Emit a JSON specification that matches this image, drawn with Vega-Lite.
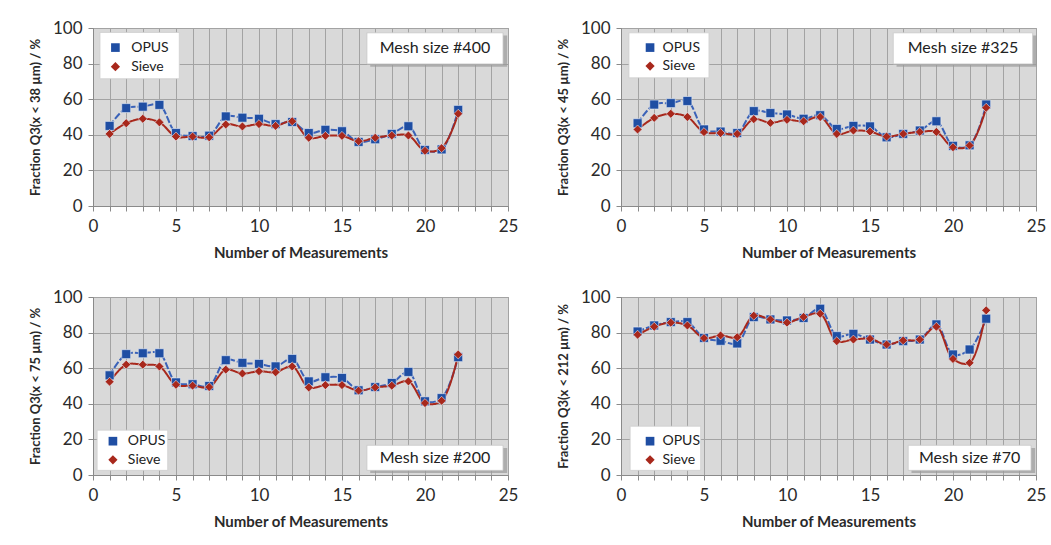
{
  "$schema": "https://vega.github.io/schema/vega-lite/v6.json",
  "background": "white",
  "padding": {"left": 28, "top": 18, "right": 0, "bottom": 0},
  "autosize": {"type": "pad"},
  "datasets": {
    "pts": [
      {"p":"400","n":1,"s":"OPUS","v":45},{"p":"400","n":2,"s":"OPUS","v":55},{"p":"400","n":3,"s":"OPUS","v":55.8},{"p":"400","n":4,"s":"OPUS","v":56.8},{"p":"400","n":5,"s":"OPUS","v":41},{"p":"400","n":6,"s":"OPUS","v":39.3},{"p":"400","n":7,"s":"OPUS","v":39.5},{"p":"400","n":8,"s":"OPUS","v":50.3},{"p":"400","n":9,"s":"OPUS","v":49.6},{"p":"400","n":10,"s":"OPUS","v":49},{"p":"400","n":11,"s":"OPUS","v":46},{"p":"400","n":12,"s":"OPUS","v":47.2},{"p":"400","n":13,"s":"OPUS","v":41},{"p":"400","n":14,"s":"OPUS","v":42.8},{"p":"400","n":15,"s":"OPUS","v":42},{"p":"400","n":16,"s":"OPUS","v":36},{"p":"400","n":17,"s":"OPUS","v":37.5},{"p":"400","n":18,"s":"OPUS","v":40.5},{"p":"400","n":19,"s":"OPUS","v":44.8},{"p":"400","n":20,"s":"OPUS","v":31.5},{"p":"400","n":21,"s":"OPUS","v":31.8},{"p":"400","n":22,"s":"OPUS","v":54},
      {"p":"400","n":1,"s":"Sieve","v":40.5},{"p":"400","n":2,"s":"Sieve","v":46.5},{"p":"400","n":3,"s":"Sieve","v":49},{"p":"400","n":4,"s":"Sieve","v":47},{"p":"400","n":5,"s":"Sieve","v":39},{"p":"400","n":6,"s":"Sieve","v":39},{"p":"400","n":7,"s":"Sieve","v":38.6},{"p":"400","n":8,"s":"Sieve","v":45.8},{"p":"400","n":9,"s":"Sieve","v":44.7},{"p":"400","n":10,"s":"Sieve","v":46},{"p":"400","n":11,"s":"Sieve","v":45},{"p":"400","n":12,"s":"Sieve","v":47.6},{"p":"400","n":13,"s":"Sieve","v":38.3},{"p":"400","n":14,"s":"Sieve","v":39.4},{"p":"400","n":15,"s":"Sieve","v":39.4},{"p":"400","n":16,"s":"Sieve","v":36.4},{"p":"400","n":17,"s":"Sieve","v":38.3},{"p":"400","n":18,"s":"Sieve","v":39.6},{"p":"400","n":19,"s":"Sieve","v":39.6},{"p":"400","n":20,"s":"Sieve","v":31},{"p":"400","n":21,"s":"Sieve","v":32.5},{"p":"400","n":22,"s":"Sieve","v":51.8},
      {"p":"325","n":1,"s":"OPUS","v":46.5},{"p":"325","n":2,"s":"OPUS","v":57},{"p":"325","n":3,"s":"OPUS","v":57.8},{"p":"325","n":4,"s":"OPUS","v":59},{"p":"325","n":5,"s":"OPUS","v":43},{"p":"325","n":6,"s":"OPUS","v":41.8},{"p":"325","n":7,"s":"OPUS","v":41},{"p":"325","n":8,"s":"OPUS","v":53.3},{"p":"325","n":9,"s":"OPUS","v":52.2},{"p":"325","n":10,"s":"OPUS","v":51.4},{"p":"325","n":11,"s":"OPUS","v":49},{"p":"325","n":12,"s":"OPUS","v":51},{"p":"325","n":13,"s":"OPUS","v":43.3},{"p":"325","n":14,"s":"OPUS","v":45},{"p":"325","n":15,"s":"OPUS","v":44.7},{"p":"325","n":16,"s":"OPUS","v":38.6},{"p":"325","n":17,"s":"OPUS","v":40.5},{"p":"325","n":18,"s":"OPUS","v":42.4},{"p":"325","n":19,"s":"OPUS","v":47.6},{"p":"325","n":20,"s":"OPUS","v":33.8},{"p":"325","n":21,"s":"OPUS","v":34.1},{"p":"325","n":22,"s":"OPUS","v":57},
      {"p":"325","n":1,"s":"Sieve","v":43},{"p":"325","n":2,"s":"Sieve","v":49.5},{"p":"325","n":3,"s":"Sieve","v":51.8},{"p":"325","n":4,"s":"Sieve","v":50},{"p":"325","n":5,"s":"Sieve","v":41.5},{"p":"325","n":6,"s":"Sieve","v":41},{"p":"325","n":7,"s":"Sieve","v":40.5},{"p":"325","n":8,"s":"Sieve","v":48.8},{"p":"325","n":9,"s":"Sieve","v":46.7},{"p":"325","n":10,"s":"Sieve","v":48.4},{"p":"325","n":11,"s":"Sieve","v":47.6},{"p":"325","n":12,"s":"Sieve","v":50},{"p":"325","n":13,"s":"Sieve","v":40.5},{"p":"325","n":14,"s":"Sieve","v":42.4},{"p":"325","n":15,"s":"Sieve","v":41.8},{"p":"325","n":16,"s":"Sieve","v":39},{"p":"325","n":17,"s":"Sieve","v":40.5},{"p":"325","n":18,"s":"Sieve","v":41.6},{"p":"325","n":19,"s":"Sieve","v":41.6},{"p":"325","n":20,"s":"Sieve","v":33},{"p":"325","n":21,"s":"Sieve","v":34},{"p":"325","n":22,"s":"Sieve","v":55.2},
      {"p":"200","n":1,"s":"OPUS","v":56},{"p":"200","n":2,"s":"OPUS","v":67.9},{"p":"200","n":3,"s":"OPUS","v":68.4},{"p":"200","n":4,"s":"OPUS","v":68.4},{"p":"200","n":5,"s":"OPUS","v":52},{"p":"200","n":6,"s":"OPUS","v":51},{"p":"200","n":7,"s":"OPUS","v":50},{"p":"200","n":8,"s":"OPUS","v":64.5},{"p":"200","n":9,"s":"OPUS","v":63},{"p":"200","n":10,"s":"OPUS","v":62.4},{"p":"200","n":11,"s":"OPUS","v":61},{"p":"200","n":12,"s":"OPUS","v":65.2},{"p":"200","n":13,"s":"OPUS","v":52.6},{"p":"200","n":14,"s":"OPUS","v":54.9},{"p":"200","n":15,"s":"OPUS","v":54.5},{"p":"200","n":16,"s":"OPUS","v":47.6},{"p":"200","n":17,"s":"OPUS","v":49.4},{"p":"200","n":18,"s":"OPUS","v":51.7},{"p":"200","n":19,"s":"OPUS","v":57.9},{"p":"200","n":20,"s":"OPUS","v":41.4},{"p":"200","n":21,"s":"OPUS","v":43.2},{"p":"200","n":22,"s":"OPUS","v":66.2},
      {"p":"200","n":1,"s":"Sieve","v":52.4},{"p":"200","n":2,"s":"Sieve","v":62},{"p":"200","n":3,"s":"Sieve","v":62},{"p":"200","n":4,"s":"Sieve","v":61},{"p":"200","n":5,"s":"Sieve","v":50.7},{"p":"200","n":6,"s":"Sieve","v":50.2},{"p":"200","n":7,"s":"Sieve","v":49.4},{"p":"200","n":8,"s":"Sieve","v":59.2},{"p":"200","n":9,"s":"Sieve","v":57},{"p":"200","n":10,"s":"Sieve","v":58.3},{"p":"200","n":11,"s":"Sieve","v":57.7},{"p":"200","n":12,"s":"Sieve","v":61},{"p":"200","n":13,"s":"Sieve","v":49.2},{"p":"200","n":14,"s":"Sieve","v":50.5},{"p":"200","n":15,"s":"Sieve","v":50.5},{"p":"200","n":16,"s":"Sieve","v":47.4},{"p":"200","n":17,"s":"Sieve","v":49.2},{"p":"200","n":18,"s":"Sieve","v":50.2},{"p":"200","n":19,"s":"Sieve","v":52.6},{"p":"200","n":20,"s":"Sieve","v":40.4},{"p":"200","n":21,"s":"Sieve","v":41.7},{"p":"200","n":22,"s":"Sieve","v":67.7},
      {"p":"70","n":1,"s":"OPUS","v":80.6},{"p":"70","n":2,"s":"OPUS","v":84},{"p":"70","n":3,"s":"OPUS","v":85.9},{"p":"70","n":4,"s":"OPUS","v":85.9},{"p":"70","n":5,"s":"OPUS","v":77},{"p":"70","n":6,"s":"OPUS","v":75.4},{"p":"70","n":7,"s":"OPUS","v":73.9},{"p":"70","n":8,"s":"OPUS","v":88.7},{"p":"70","n":9,"s":"OPUS","v":87.4},{"p":"70","n":10,"s":"OPUS","v":86.8},{"p":"70","n":11,"s":"OPUS","v":88.2},{"p":"70","n":12,"s":"OPUS","v":93.4},{"p":"70","n":13,"s":"OPUS","v":78},{"p":"70","n":14,"s":"OPUS","v":79.3},{"p":"70","n":15,"s":"OPUS","v":76.1},{"p":"70","n":16,"s":"OPUS","v":73.3},{"p":"70","n":17,"s":"OPUS","v":75.2},{"p":"70","n":18,"s":"OPUS","v":76.1},{"p":"70","n":19,"s":"OPUS","v":84.6},{"p":"70","n":20,"s":"OPUS","v":67.7},{"p":"70","n":21,"s":"OPUS","v":70.5},{"p":"70","n":22,"s":"OPUS","v":87.8},
      {"p":"70","n":1,"s":"Sieve","v":78.8},{"p":"70","n":2,"s":"Sieve","v":83.3},{"p":"70","n":3,"s":"Sieve","v":85.6},{"p":"70","n":4,"s":"Sieve","v":84},{"p":"70","n":5,"s":"Sieve","v":76.9},{"p":"70","n":6,"s":"Sieve","v":78.4},{"p":"70","n":7,"s":"Sieve","v":77.4},{"p":"70","n":8,"s":"Sieve","v":89.5},{"p":"70","n":9,"s":"Sieve","v":87.4},{"p":"70","n":10,"s":"Sieve","v":85.6},{"p":"70","n":11,"s":"Sieve","v":88.8},{"p":"70","n":12,"s":"Sieve","v":90.6},{"p":"70","n":13,"s":"Sieve","v":75.2},{"p":"70","n":14,"s":"Sieve","v":76.1},{"p":"70","n":15,"s":"Sieve","v":76.5},{"p":"70","n":16,"s":"Sieve","v":73.3},{"p":"70","n":17,"s":"Sieve","v":75.6},{"p":"70","n":18,"s":"Sieve","v":76.1},{"p":"70","n":19,"s":"Sieve","v":83.3},{"p":"70","n":20,"s":"Sieve","v":65.2},{"p":"70","n":21,"s":"Sieve","v":63},{"p":"70","n":22,"s":"Sieve","v":92.5}
    ],
    "labels": [
      {"p":"400","label":"Mesh size #400"},
      {"p":"325","label":"Mesh size #325"},
      {"p":"200","label":"Mesh size #200"},
      {"p":"70","label":"Mesh size #70"}
    ],
    "keys": [
      {"s":"OPUS"},
      {"s":"Sieve"}
    ]
  },
  "vconcat": [
    {
      "hconcat": [
        {
          "width": 415, "height": 178,
          "layer": [
            {"data": {"name": "pts"}, "transform": [{"filter": "datum.p === '400'"}], "mark": {"type": "line", "interpolate": "catmull-rom", "strokeWidth": 2},
             "encoding": {
               "x": {"field": "n", "type": "quantitative", "scale": {"domain": [0, 25], "nice": false, "zero": false}, "axis": {"tickCount": 25, "labelExpr": "datum.value % 5 === 0 ? datum.label : ''", "title": "Number of Measurements", "grid": true, "labelOverlap": false}},
               "y": {"field": "v", "type": "quantitative", "scale": {"domain": [0, 100], "nice": false}, "axis": {"tickCount": 5, "title": "Fraction Q3(x < 38 µm) / %", "grid": true, "labelOverlap": false}},
               "stroke": {"field": "s", "type": "nominal", "scale": {"domain": ["OPUS", "Sieve"], "range": ["#3a62b8", "#a8281c"]}, "legend": null},
               "strokeDash": {"field": "s", "type": "nominal", "scale": {"domain": ["OPUS", "Sieve"], "range": [[7, 2], [1, 0]]}, "legend": null}
             }},
            {"data": {"name": "pts"}, "transform": [{"filter": "datum.p === '400'"}], "mark": {"type": "point", "filled": true, "opacity": 1, "size": 80, "stroke": "#e8ecf5", "strokeWidth": 0.6},
             "encoding": {
               "x": {"field": "n", "type": "quantitative"},
               "y": {"field": "v", "type": "quantitative"},
               "color": {"field": "s", "type": "nominal", "scale": {"domain": ["OPUS", "Sieve"], "range": ["#1f4ea3", "#a8281c"]}, "legend": null},
               "shape": {"field": "s", "type": "nominal", "scale": {"domain": ["OPUS", "Sieve"], "range": ["square", "diamond"]}, "legend": null}
             }},
            {"data": {"name": "labels"}, "transform": [{"filter": "datum.p === '400'"}], "mark": {"type": "rect", "fill": "#9a9a9a", "opacity": 0.7}, "encoding": {"x": {"datum": 16.7}, "x2": {"datum": 24.95}, "y": {"datum": 95.8}, "y2": {"datum": 78.2}}},
            {"data": {"name": "labels"}, "transform": [{"filter": "datum.p === '400'"}], "mark": {"type": "rect", "fill": "white", "stroke": "#c8c8c8", "strokeWidth": 0.8}, "encoding": {"x": {"datum": 16.5}, "x2": {"datum": 24.7}, "y": {"datum": 97.3}, "y2": {"datum": 79.8}}},
            {"data": {"name": "labels"}, "transform": [{"filter": "datum.p === '400'"}], "mark": {"type": "text", "font": "Lato", "fontSize": 16, "color": "#222"}, "encoding": {"x": {"datum": 20.6}, "y": {"datum": 88.5}, "text": {"field": "label"}}},
            {"data": {"name": "labels"}, "transform": [{"filter": "datum.p === '400'"}], "mark": {"type": "rect", "fill": "white", "stroke": "#cfcfcf", "strokeWidth": 0.8}, "encoding": {"x": {"datum": 0.42}, "x2": {"datum": 5.2}, "y": {"datum": 97.5}, "y2": {"datum": 71.5}}},
            {"data": {"name": "keys"}, "transform": [{"filter": "datum.s === 'OPUS'"}], "mark": {"type": "point", "shape": "square", "filled": true, "size": 75, "color": "#1f4ea3", "opacity": 1}, "encoding": {"x": {"datum": 1.35}, "y": {"datum": 89}}},
            {"data": {"name": "keys"}, "transform": [{"filter": "datum.s === 'Sieve'"}], "mark": {"type": "point", "shape": "diamond", "filled": true, "size": 85, "color": "#a8281c", "opacity": 1}, "encoding": {"x": {"datum": 1.35}, "y": {"datum": 78.3}}},
            {"data": {"name": "keys"}, "transform": [{"filter": "datum.s === 'OPUS'"}], "mark": {"type": "text", "align": "left", "baseline": "middle", "font": "Lato", "fontSize": 14, "color": "#222"}, "encoding": {"x": {"datum": 2.3}, "y": {"datum": 89}, "text": {"field": "s"}}},
            {"data": {"name": "keys"}, "transform": [{"filter": "datum.s === 'Sieve'"}], "mark": {"type": "text", "align": "left", "baseline": "middle", "font": "Lato", "fontSize": 14, "color": "#222"}, "encoding": {"x": {"datum": 2.3}, "y": {"datum": 78.3}, "text": {"field": "s"}}}
          ]
        },
        {
          "width": 415, "height": 178,
          "layer": [
            {"data": {"name": "pts"}, "transform": [{"filter": "datum.p === '325'"}], "mark": {"type": "line", "interpolate": "catmull-rom", "strokeWidth": 2},
             "encoding": {
               "x": {"field": "n", "type": "quantitative", "scale": {"domain": [0, 25], "nice": false, "zero": false}, "axis": {"tickCount": 25, "labelExpr": "datum.value % 5 === 0 ? datum.label : ''", "title": "Number of Measurements", "grid": true, "labelOverlap": false}},
               "y": {"field": "v", "type": "quantitative", "scale": {"domain": [0, 100], "nice": false}, "axis": {"tickCount": 5, "title": "Fraction Q3(x < 45 µm) / %", "grid": true, "labelOverlap": false}},
               "stroke": {"field": "s", "type": "nominal", "scale": {"domain": ["OPUS", "Sieve"], "range": ["#3a62b8", "#a8281c"]}, "legend": null},
               "strokeDash": {"field": "s", "type": "nominal", "scale": {"domain": ["OPUS", "Sieve"], "range": [[7, 2], [1, 0]]}, "legend": null}
             }},
            {"data": {"name": "pts"}, "transform": [{"filter": "datum.p === '325'"}], "mark": {"type": "point", "filled": true, "opacity": 1, "size": 80, "stroke": "#e8ecf5", "strokeWidth": 0.6},
             "encoding": {
               "x": {"field": "n", "type": "quantitative"},
               "y": {"field": "v", "type": "quantitative"},
               "color": {"field": "s", "type": "nominal", "scale": {"domain": ["OPUS", "Sieve"], "range": ["#1f4ea3", "#a8281c"]}, "legend": null},
               "shape": {"field": "s", "type": "nominal", "scale": {"domain": ["OPUS", "Sieve"], "range": ["square", "diamond"]}, "legend": null}
             }},
            {"data": {"name": "labels"}, "transform": [{"filter": "datum.p === '325'"}], "mark": {"type": "rect", "fill": "#9a9a9a", "opacity": 0.7}, "encoding": {"x": {"datum": 16.6}, "x2": {"datum": 25.05}, "y": {"datum": 95.8}, "y2": {"datum": 78.2}}},
            {"data": {"name": "labels"}, "transform": [{"filter": "datum.p === '325'"}], "mark": {"type": "rect", "fill": "white", "stroke": "#c8c8c8", "strokeWidth": 0.8}, "encoding": {"x": {"datum": 16.4}, "x2": {"datum": 24.8}, "y": {"datum": 97.3}, "y2": {"datum": 79.8}}},
            {"data": {"name": "labels"}, "transform": [{"filter": "datum.p === '325'"}], "mark": {"type": "text", "font": "Lato", "fontSize": 16, "color": "#222"}, "encoding": {"x": {"datum": 20.6}, "y": {"datum": 88.5}, "text": {"field": "label"}}},
            {"data": {"name": "labels"}, "transform": [{"filter": "datum.p === '325'"}], "mark": {"type": "rect", "fill": "white", "stroke": "#cfcfcf", "strokeWidth": 0.8}, "encoding": {"x": {"datum": 0.48}, "x2": {"datum": 5.3}, "y": {"datum": 97.3}, "y2": {"datum": 72}}},
            {"data": {"name": "keys"}, "transform": [{"filter": "datum.s === 'OPUS'"}], "mark": {"type": "point", "shape": "square", "filled": true, "size": 75, "color": "#1f4ea3", "opacity": 1}, "encoding": {"x": {"datum": 1.75}, "y": {"datum": 89}}},
            {"data": {"name": "keys"}, "transform": [{"filter": "datum.s === 'Sieve'"}], "mark": {"type": "point", "shape": "diamond", "filled": true, "size": 85, "color": "#a8281c", "opacity": 1}, "encoding": {"x": {"datum": 1.75}, "y": {"datum": 78.6}}},
            {"data": {"name": "keys"}, "transform": [{"filter": "datum.s === 'OPUS'"}], "mark": {"type": "text", "align": "left", "baseline": "middle", "font": "Lato", "fontSize": 14, "color": "#222"}, "encoding": {"x": {"datum": 2.5}, "y": {"datum": 89}, "text": {"field": "s"}}},
            {"data": {"name": "keys"}, "transform": [{"filter": "datum.s === 'Sieve'"}], "mark": {"type": "text", "align": "left", "baseline": "middle", "font": "Lato", "fontSize": 14, "color": "#222"}, "encoding": {"x": {"datum": 2.5}, "y": {"datum": 78.6}, "text": {"field": "s"}}}
          ]
        }
      ],
      "spacing": 37
    },
    {
      "hconcat": [
        {
          "width": 415, "height": 178,
          "layer": [
            {"data": {"name": "pts"}, "transform": [{"filter": "datum.p === '200'"}], "mark": {"type": "line", "interpolate": "catmull-rom", "strokeWidth": 2},
             "encoding": {
               "x": {"field": "n", "type": "quantitative", "scale": {"domain": [0, 25], "nice": false, "zero": false}, "axis": {"tickCount": 25, "labelExpr": "datum.value % 5 === 0 ? datum.label : ''", "title": "Number of Measurements", "grid": true, "labelOverlap": false}},
               "y": {"field": "v", "type": "quantitative", "scale": {"domain": [0, 100], "nice": false}, "axis": {"tickCount": 5, "title": "Fraction Q3(x < 75 µm) / %", "grid": true, "labelOverlap": false}},
               "stroke": {"field": "s", "type": "nominal", "scale": {"domain": ["OPUS", "Sieve"], "range": ["#3a62b8", "#a8281c"]}, "legend": null},
               "strokeDash": {"field": "s", "type": "nominal", "scale": {"domain": ["OPUS", "Sieve"], "range": [[7, 2], [1, 0]]}, "legend": null}
             }},
            {"data": {"name": "pts"}, "transform": [{"filter": "datum.p === '200'"}], "mark": {"type": "point", "filled": true, "opacity": 1, "size": 80, "stroke": "#e8ecf5", "strokeWidth": 0.6},
             "encoding": {
               "x": {"field": "n", "type": "quantitative"},
               "y": {"field": "v", "type": "quantitative"},
               "color": {"field": "s", "type": "nominal", "scale": {"domain": ["OPUS", "Sieve"], "range": ["#1f4ea3", "#a8281c"]}, "legend": null},
               "shape": {"field": "s", "type": "nominal", "scale": {"domain": ["OPUS", "Sieve"], "range": ["square", "diamond"]}, "legend": null}
             }},
            {"data": {"name": "labels"}, "transform": [{"filter": "datum.p === '200'"}], "mark": {"type": "rect", "fill": "#9a9a9a", "opacity": 0.7}, "encoding": {"x": {"datum": 16.7}, "x2": {"datum": 24.95}, "y": {"datum": 15.2}, "y2": {"datum": 1.1}}},
            {"data": {"name": "labels"}, "transform": [{"filter": "datum.p === '200'"}], "mark": {"type": "rect", "fill": "white", "stroke": "#c8c8c8", "strokeWidth": 0.8}, "encoding": {"x": {"datum": 16.5}, "x2": {"datum": 24.7}, "y": {"datum": 16.7}, "y2": {"datum": 2.6}}},
            {"data": {"name": "labels"}, "transform": [{"filter": "datum.p === '200'"}], "mark": {"type": "text", "font": "Lato", "fontSize": 16, "color": "#222"}, "encoding": {"x": {"datum": 20.6}, "y": {"datum": 9.7}, "text": {"field": "label"}}},
            {"data": {"name": "labels"}, "transform": [{"filter": "datum.p === '200'"}], "mark": {"type": "rect", "fill": "white", "stroke": "#cfcfcf", "strokeWidth": 0.8}, "encoding": {"x": {"datum": 0.25}, "x2": {"datum": 4.5}, "y": {"datum": 25.2}, "y2": {"datum": 2.6}}},
            {"data": {"name": "keys"}, "transform": [{"filter": "datum.s === 'OPUS'"}], "mark": {"type": "point", "shape": "square", "filled": true, "size": 75, "color": "#1f4ea3", "opacity": 1}, "encoding": {"x": {"datum": 1.2}, "y": {"datum": 19}}},
            {"data": {"name": "keys"}, "transform": [{"filter": "datum.s === 'Sieve'"}], "mark": {"type": "point", "shape": "diamond", "filled": true, "size": 85, "color": "#a8281c", "opacity": 1}, "encoding": {"x": {"datum": 1.2}, "y": {"datum": 8.5}}},
            {"data": {"name": "keys"}, "transform": [{"filter": "datum.s === 'OPUS'"}], "mark": {"type": "text", "align": "left", "baseline": "middle", "font": "Lato", "fontSize": 14, "color": "#222"}, "encoding": {"x": {"datum": 2.1}, "y": {"datum": 19}, "text": {"field": "s"}}},
            {"data": {"name": "keys"}, "transform": [{"filter": "datum.s === 'Sieve'"}], "mark": {"type": "text", "align": "left", "baseline": "middle", "font": "Lato", "fontSize": 14, "color": "#222"}, "encoding": {"x": {"datum": 2.1}, "y": {"datum": 8.5}, "text": {"field": "s"}}}
          ]
        },
        {
          "width": 415, "height": 178,
          "layer": [
            {"data": {"name": "pts"}, "transform": [{"filter": "datum.p === '70'"}], "mark": {"type": "line", "interpolate": "catmull-rom", "strokeWidth": 2},
             "encoding": {
               "x": {"field": "n", "type": "quantitative", "scale": {"domain": [0, 25], "nice": false, "zero": false}, "axis": {"tickCount": 25, "labelExpr": "datum.value % 5 === 0 ? datum.label : ''", "title": "Number of Measurements", "grid": true, "labelOverlap": false}},
               "y": {"field": "v", "type": "quantitative", "scale": {"domain": [0, 100], "nice": false}, "axis": {"tickCount": 5, "title": "Fraction Q3(x < 212 µm) / %", "grid": true, "labelOverlap": false}},
               "stroke": {"field": "s", "type": "nominal", "scale": {"domain": ["OPUS", "Sieve"], "range": ["#3a62b8", "#a8281c"]}, "legend": null},
               "strokeDash": {"field": "s", "type": "nominal", "scale": {"domain": ["OPUS", "Sieve"], "range": [[7, 2], [1, 0]]}, "legend": null}
             }},
            {"data": {"name": "pts"}, "transform": [{"filter": "datum.p === '70'"}], "mark": {"type": "point", "filled": true, "opacity": 1, "size": 80, "stroke": "#e8ecf5", "strokeWidth": 0.6},
             "encoding": {
               "x": {"field": "n", "type": "quantitative"},
               "y": {"field": "v", "type": "quantitative"},
               "color": {"field": "s", "type": "nominal", "scale": {"domain": ["OPUS", "Sieve"], "range": ["#1f4ea3", "#a8281c"]}, "legend": null},
               "shape": {"field": "s", "type": "nominal", "scale": {"domain": ["OPUS", "Sieve"], "range": ["square", "diamond"]}, "legend": null}
             }},
            {"data": {"name": "labels"}, "transform": [{"filter": "datum.p === '70'"}], "mark": {"type": "rect", "fill": "#9a9a9a", "opacity": 0.7}, "encoding": {"x": {"datum": 17.5}, "x2": {"datum": 24.95}, "y": {"datum": 15.2}, "y2": {"datum": 1.1}}},
            {"data": {"name": "labels"}, "transform": [{"filter": "datum.p === '70'"}], "mark": {"type": "rect", "fill": "white", "stroke": "#c8c8c8", "strokeWidth": 0.8}, "encoding": {"x": {"datum": 17.3}, "x2": {"datum": 24.7}, "y": {"datum": 16.7}, "y2": {"datum": 2.6}}},
            {"data": {"name": "labels"}, "transform": [{"filter": "datum.p === '70'"}], "mark": {"type": "text", "font": "Lato", "fontSize": 16, "color": "#222"}, "encoding": {"x": {"datum": 21.0}, "y": {"datum": 9.7}, "text": {"field": "label"}}},
            {"data": {"name": "labels"}, "transform": [{"filter": "datum.p === '70'"}], "mark": {"type": "rect", "fill": "white", "stroke": "#cfcfcf", "strokeWidth": 0.8}, "encoding": {"x": {"datum": 0.55}, "x2": {"datum": 4.8}, "y": {"datum": 27.4}, "y2": {"datum": 2.6}}},
            {"data": {"name": "keys"}, "transform": [{"filter": "datum.s === 'OPUS'"}], "mark": {"type": "point", "shape": "square", "filled": true, "size": 75, "color": "#1f4ea3", "opacity": 1}, "encoding": {"x": {"datum": 1.75}, "y": {"datum": 19}}},
            {"data": {"name": "keys"}, "transform": [{"filter": "datum.s === 'Sieve'"}], "mark": {"type": "point", "shape": "diamond", "filled": true, "size": 85, "color": "#a8281c", "opacity": 1}, "encoding": {"x": {"datum": 1.75}, "y": {"datum": 8.5}}},
            {"data": {"name": "keys"}, "transform": [{"filter": "datum.s === 'OPUS'"}], "mark": {"type": "text", "align": "left", "baseline": "middle", "font": "Lato", "fontSize": 14, "color": "#222"}, "encoding": {"x": {"datum": 2.5}, "y": {"datum": 19}, "text": {"field": "s"}}},
            {"data": {"name": "keys"}, "transform": [{"filter": "datum.s === 'Sieve'"}], "mark": {"type": "text", "align": "left", "baseline": "middle", "font": "Lato", "fontSize": 14, "color": "#222"}, "encoding": {"x": {"datum": 2.5}, "y": {"datum": 8.5}, "text": {"field": "s"}}}
          ]
        }
      ],
      "spacing": 37
    }
  ],
  "spacing": 26,
  "config": {
    "font": "Lato",
    "view": {"fill": "#d9d9d9", "stroke": "#9a9a9a", "strokeWidth": 1},
    "axis": {
      "labelFont": "Lato", "labelFontSize": 17, "labelColor": "#2a2a2a",
      "titleFont": "Lato", "titleFontWeight": "bold", "titleColor": "#2a2a2a",
      "domainColor": "#8a8a8a", "tickColor": "#8a8a8a", "gridColor": "#a3a3a3", "gridWidth": 1, "gridOpacity": 1,
      "tickSize": 5
    },
    "axisX": {"titleFontSize": 15, "labelPadding": 7, "titlePadding": 11, "labelFlush": false},
    "axisY": {"titleFontSize": 13, "labelPadding": 6, "titlePadding": 10}
  }
}
